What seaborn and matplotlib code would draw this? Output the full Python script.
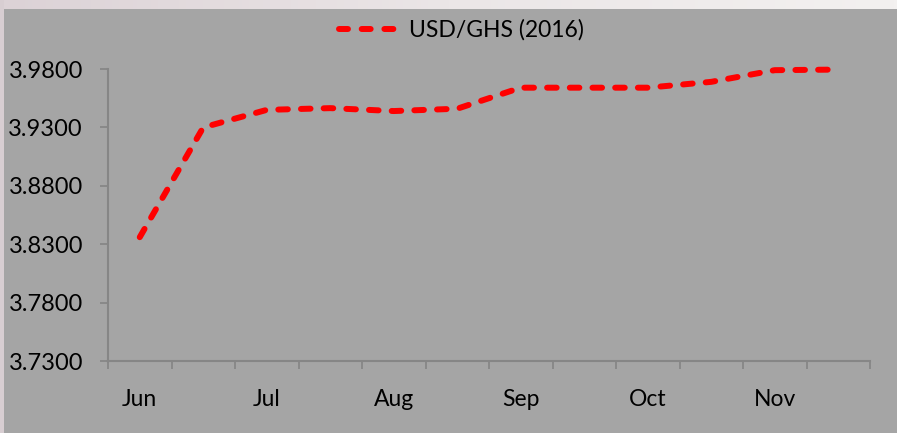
import matplotlib
matplotlib.use("Agg")
import matplotlib.pyplot as plt
import seaborn as sns
import pandas as pd
import numpy as np
from matplotlib.patches import Rectangle
from matplotlib.colors import LinearSegmentedColormap

# ---- data ----
periods = ["Jun", "Jun b", "Jul", "Jul b", "Aug", "Aug b",
           "Sep", "Sep b", "Oct", "Oct b", "Nov", "Nov b"]
tick_labels = ["Jun", "", "Jul", "", "Aug", "", "Sep", "", "Oct", "", "Nov", ""]
rates = [3.8360, 3.9300, 3.9450, 3.9465, 3.9440, 3.9460,
         3.9640, 3.9640, 3.9640, 3.9690, 3.9790, 3.9795]
series_name = "USD/GHS (2016)"
y_ticks = [3.73, 3.78, 3.83, 3.88, 3.93, 3.98]

df = pd.DataFrame({"idx": np.arange(len(periods)), "rate": rates})

sns.set_theme(style="white")
plt.rcParams["font.family"] = ["Lato", "DejaVu Sans"]

W, H = 897, 433
fig = plt.figure(figsize=(W / 100, H / 100), dpi=100, facecolor="#a5a5a5")

# outer border strips
grad = np.linspace(0, 1, 256).reshape(1, -1)
cmap = LinearSegmentedColormap.from_list("g", ["#dcd2d6", "#ebe6e7", "#f3f1f0"])
bax = fig.add_axes([0, 1 - 9 / H, 1, 9 / H])
bax.imshow(grad, aspect="auto", cmap=cmap, extent=[0, 1, 0, 1])
bax.set_axis_off()
fig.patches.append(Rectangle((0, 0), 4 / W, 1, transform=fig.transFigure,
                             facecolor="#d8ced2", edgecolor="none", zorder=0))

left, right = 108 / W, 870 / W
bottom, top = 1 - 361 / H, 1 - 69 / H
ax = fig.add_axes([left, bottom, right - left, top - bottom])
ax.set_facecolor("#a5a5a5")

sns.lineplot(data=df, x="idx", y="rate", ax=ax, color="#ff0000",
             linewidth=4.3, label=series_name, clip_on=False)
line = ax.get_lines()[0]
line.set_dashes((1.6, 2.2))
line.set_dash_capstyle("round")
line.set_solid_capstyle("round")

ax.set_xlim(-0.5, len(periods) - 0.5)
ax.set_ylim(3.73, 3.98)
ax.set_yticks(y_ticks)
ax.set_yticklabels([f"{v:.4f}" for v in y_ticks])
ax.set_xticks(np.arange(len(periods)))
ax.set_xticklabels(tick_labels)
ax.set_xticks(np.arange(-0.5, len(periods)), minor=True)
ax.tick_params(axis="x", which="major", bottom=True, length=0, pad=20,
               labelsize=16.5, labelcolor="black")
ax.tick_params(axis="x", which="minor", bottom=True, length=6, width=1.3,
               color="#868686", direction="out")
ax.tick_params(axis="y", which="major", left=True, length=6, width=1.3,
               color="#868686", direction="out", pad=12, labelsize=17,
               labelcolor="black")
ax.set_xlabel("")
ax.set_ylabel("")

for s in ["top", "right"]:
    ax.spines[s].set_visible(False)
for s in ["left", "bottom"]:
    ax.spines[s].set_color("#868686")
    ax.spines[s].set_linewidth(1.5)

leg = ax.legend(loc="center", bbox_to_anchor=(0.5145, 1 - 30 / H),
                bbox_transform=fig.transFigure, frameon=False, fontsize=16.5,
                handlelength=2.4, handletextpad=0.65)
for h in leg.get_lines():
    h.set_linewidth(4.3)
    h.set_dashes((1.5, 2.3))
    h.set_dash_capstyle("round")
for t in leg.get_texts():
    t.set_color("black")

fig.savefig("out.png", dpi=100, facecolor=fig.get_facecolor())
